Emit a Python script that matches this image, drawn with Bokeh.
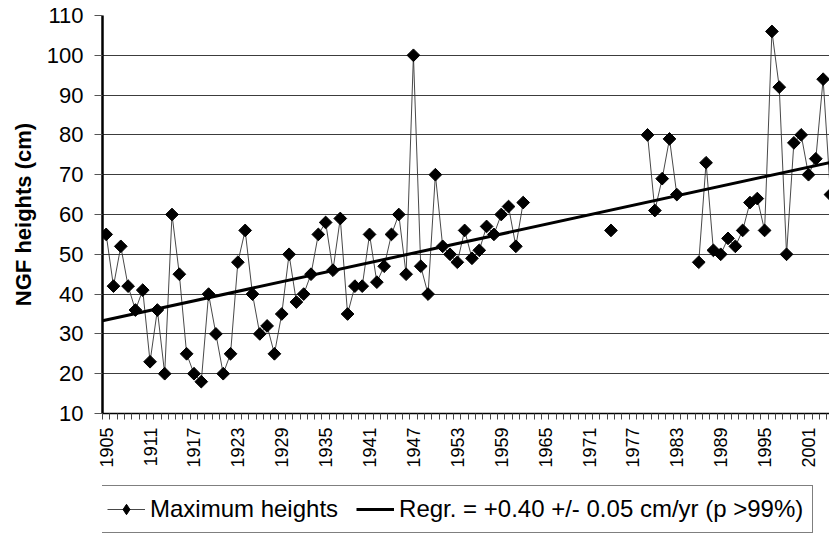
import numpy as np
from bokeh.plotting import figure
from bokeh.layouts import column
from bokeh.models import Range1d, FixedTicker, Legend, LegendItem, Title
from bokeh.embed import file_html
from bokeh.resources import INLINE

# ---- data ----
years = [1905, 1906, 1907, 1908, 1909, 1910, 1911, 1912, 1913, 1914,
         1915, 1916, 1917, 1918, 1919, 1920, 1921, 1922, 1923, 1924,
         1925, 1926, 1927, 1928, 1929, 1930, 1931, 1932, 1933, 1934,
         1935, 1936, 1937, 1938, 1939, 1940, 1941, 1942, 1943, 1944,
         1945, 1946, 1947, 1948, 1949, 1950, 1951, 1952, 1953, 1954,
         1955, 1956, 1957, 1958, 1959, 1960, 1961, 1962,
         1974,
         1979, 1980, 1981, 1982, 1983,
         1986, 1987, 1988, 1989, 1990, 1991, 1992, 1993, 1994, 1995,
         1996, 1997, 1998, 1999, 2000, 2001, 2002, 2003, 2004]
heights = [55, 42, 52, 42, 36, 41, 23, 36, 20, 60,
           45, 25, 20, 18, 40, 30, 20, 25, 48, 56,
           40, 30, 32, 25, 35, 50, 38, 40, 45, 55,
           58, 46, 59, 35, 42, 42, 55, 43, 47, 55,
           60, 45, 100, 47, 40, 70, 52, 50, 48, 56,
           49, 51, 57, 55, 60, 62, 52, 63,
           56,
           80, 61, 69, 79, 65,
           48, 73, 51, 50, 54, 52, 56, 63, 64, 56,
           106, 92, 50, 78, 80, 70, 74, 94, 65]

regr_slope = 0.40        # cm/yr
regr_at_1905 = 33.5      # cm
x_tick_years = [1905, 1911, 1917, 1923, 1929, 1935, 1941, 1947, 1953,
                1959, 1965, 1971, 1977, 1983, 1989, 1995, 2001]
y_ticks = [10, 20, 30, 40, 50, 60, 70, 80, 90, 100, 110]

y_title = "NGF heights (cm)"
series_label = "Maximum heights"
regr_label = "Regr. = +0.40 +/- 0.05 cm/yr (p >99%)"

FONT = "Liberation Sans"

# line broken where years are missing
lx, ly = [], []
for i, (yr, h) in enumerate(zip(years, heights)):
    if i > 0 and yr - years[i - 1] > 1:
        lx.append(np.nan)
        ly.append(np.nan)
    lx.append(yr)
    ly.append(h)

x0, x1 = 1904.5, 2003.87

p = figure(width=829, height=482,
           x_range=Range1d(x0, x1), y_range=Range1d(10, 110),
           output_backend="svg", toolbar_location=None,
           min_border_left=102, min_border_top=15, min_border_right=0,
           min_border_bottom=69)
p.outline_line_color = None
p.background_fill_color = "white"

# grid
p.xgrid.visible = False
p.ygrid.ticker = FixedTicker(ticks=y_ticks)
p.ygrid.grid_line_color = "#3c3c3c"
p.ygrid.grid_line_width = 1.2

# y axis
p.yaxis.ticker = FixedTicker(ticks=y_ticks)
p.yaxis.axis_line_color = "black"
p.yaxis.axis_line_width = 2.5
p.yaxis.major_tick_out = 8
p.yaxis.major_tick_in = 0
p.yaxis.major_tick_line_color = "#555555"
p.yaxis.minor_tick_line_color = None
p.yaxis.major_label_standoff = 11
p.yaxis.major_label_text_font = FONT
p.yaxis.major_label_text_font_size = "22px"
p.yaxis.major_label_text_color = "black"

ttl = Title(text=y_title, align="center", offset=18,
            text_font=FONT, text_font_style="bold", text_font_size="22px",
            text_color="black", standoff=16)
p.add_layout(ttl, "left")

# x axis
p.xaxis.ticker = FixedTicker(ticks=x_tick_years,
                             minor_ticks=[x0 + k for k in range(101)])
p.xaxis.major_label_overrides = {y: str(y) for y in x_tick_years}
p.xaxis.axis_line_color = "black"
p.xaxis.axis_line_width = 1.5
p.xaxis.major_tick_out = 6
p.xaxis.major_tick_in = 0
p.xaxis.major_tick_line_alpha = 0
p.xaxis.minor_tick_out = 6
p.xaxis.minor_tick_in = 0
p.xaxis.minor_tick_line_color = "#444444"
p.xaxis.major_label_orientation = np.pi / 2
p.xaxis.major_label_standoff = 8
p.xaxis.major_label_text_font = FONT
p.xaxis.major_label_text_font_size = "18px"
p.xaxis.major_label_text_color = "black"

# series
line_r = p.line(lx, ly, line_color="#333333", line_width=0.9)
pts_r = p.scatter(years, heights, marker="square", angle=np.pi / 4, size=9,
                  fill_color="black", line_color="black")

# regression
rx = [x0, x1]
ry = [regr_at_1905 + regr_slope * (x - 1905) for x in rx]
reg_r = p.line(rx, ry, line_color="black", line_width=3)

# legend strip (separate figure so the box is not clipped by the frame);
# its proxy renderers sit outside its visible range
q = figure(width=829, height=58, x_range=Range1d(0, 1), y_range=Range1d(0, 1),
           output_backend="svg", toolbar_location=None,
           min_border_left=0, min_border_right=0, min_border_top=0,
           min_border_bottom=0)
q.axis.visible = False
q.grid.visible = False
q.outline_line_color = None
off = [-10, -11]
lg_line = q.line(off, off, line_color="#333333", line_width=0.9)
lg_pts = q.scatter(off, off, marker="diamond", size=9,
                   fill_color="black", line_color="black")
lg_reg = q.line(off, off, line_color="black", line_width=3)

legend = Legend(items=[LegendItem(label=series_label, renderers=[lg_line, lg_pts]),
                       LegendItem(label=regr_label, renderers=[lg_reg])],
                orientation="horizontal", location=(-5, 7))
legend.border_line_color = "black"
legend.border_line_width = 1
legend.label_text_font = FONT
legend.label_text_font_size = "24px"
legend.label_text_color = "black"
legend.glyph_width = 38
legend.glyph_height = 26
legend.label_standoff = 5
legend.spacing = 18
legend.padding = 9
legend.margin = 0
q.add_layout(legend, "center")

layout = column(p, q, spacing=0)
open("out.html", "w").write(file_html(layout, INLINE))
